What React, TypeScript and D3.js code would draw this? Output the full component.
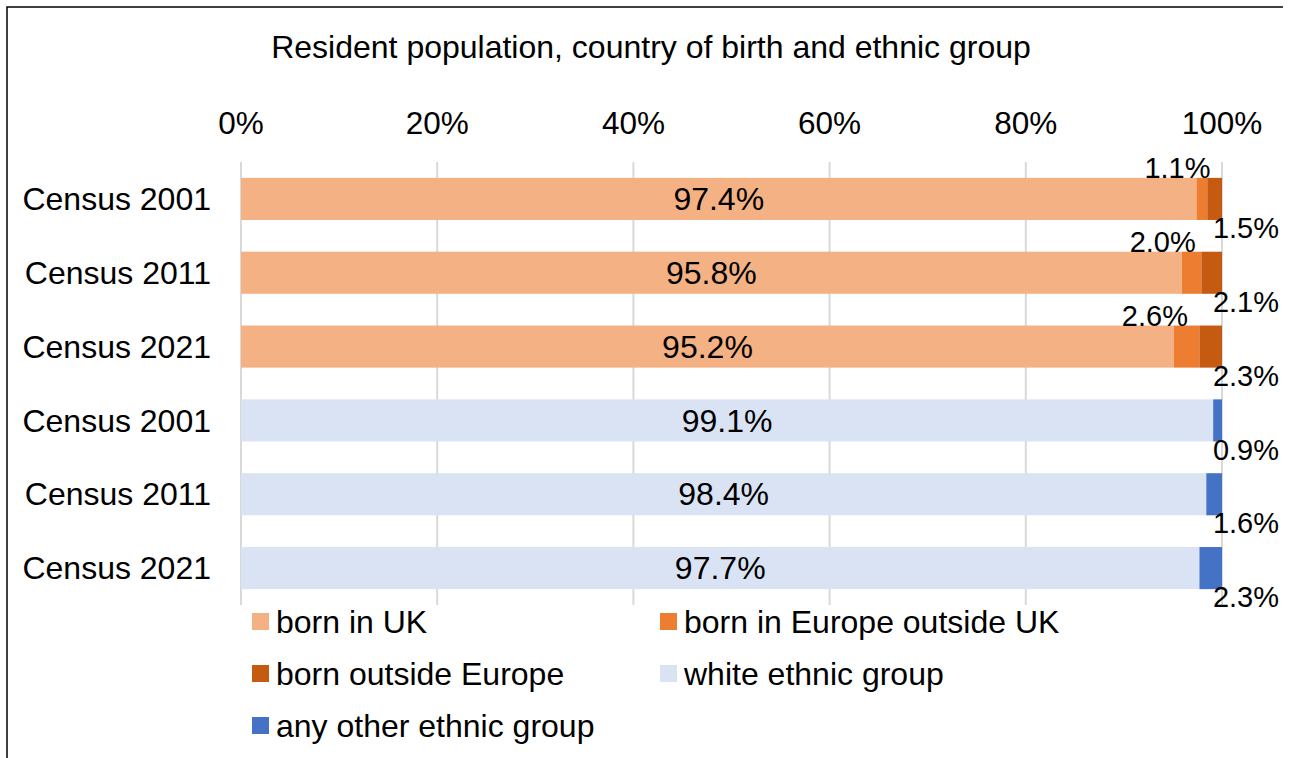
import React, { useRef, useEffect } from 'react';
import * as d3 from 'd3';

// rows, top to bottom
const categories = ['Census 2001', 'Census 2011', 'Census 2021', 'Census 2001', 'Census 2011', 'Census 2021'];

const seriesNames = [
  'born in UK',
  'born in Europe outside UK',
  'born outside Europe',
  'white ethnic group',
  'any other ethnic group',
];
const seriesColors = ['#F4B183', '#ED7D31', '#C55A11', '#DAE3F3', '#4472C4'];

const bornInUK = [97.4, 95.8, 95.2, 0, 0, 0];
const bornInEurope = [1.1, 2.0, 2.6, 0, 0, 0];
const bornOutsideEurope = [1.5, 2.1, 2.3, 0, 0, 0];
const whiteEthnic = [0, 0, 0, 99.1, 98.4, 97.7];
const otherEthnic = [0, 0, 0, 0.9, 1.6, 2.3];

const xTicks = [0, 0.2, 0.4, 0.6, 0.8, 1];

const FONT = "'Liberation Sans', Arial, sans-serif";

const ChartSvg: React.FC = () => {
  const svgRef = useRef<SVGSVGElement>(null);

  useEffect(() => {
    if (!svgRef.current) return;
    const svg = d3.select(svgRef.current);
    svg.selectAll('*').remove();

    const W = 1290;
    const H = 758;
    svg.attr('width', W).attr('height', H);

    const values = [bornInUK, bornInEurope, bornOutsideEurope, whiteEthnic, otherEthnic];
    const keys = seriesNames;
    const rows = categories.map((c, i) => {
      const r: Record<string, number> = { idx: i };
      keys.forEach((k, j) => (r[k] = values[j][i]));
      return r;
    });

    const stacked = d3.stack<Record<string, number>>()
      .keys(keys)
      .offset(d3.stackOffsetExpand)(rows);

    const x = d3.scaleLinear().domain([0, 1]).range([241, 1222]);
    const y = d3.scaleBand<number>()
      .domain(categories.map((_, i) => i))
      .range([162, 605])
      .paddingInner(0.43)
      .paddingOuter(0.215);

    // frame
    svg.append('path')
      .attr('d', `M7,${H} V7 H1283`)
      .attr('fill', 'none')
      .attr('stroke', '#000')
      .attr('stroke-width', 1.5);

    // title
    svg.append('text')
      .attr('x', 651).attr('y', 58)
      .attr('text-anchor', 'middle')
      .style('font-family', FONT).style('font-size', '32px').style('fill', '#000')
      .text('Resident population, country of birth and ethnic group');

    // grid
    svg.append('g')
      .selectAll('line')
      .data(xTicks)
      .join('line')
      .attr('x1', d => x(d)).attr('x2', d => x(d))
      .attr('y1', 162).attr('y2', 605)
      .attr('stroke', '#D9D9D9').attr('stroke-width', 2);

    // top axis labels
    svg.append('g')
      .selectAll('text')
      .data(xTicks)
      .join('text')
      .attr('x', d => x(d)).attr('y', 123)
      .attr('dy', '0.35em')
      .attr('text-anchor', 'middle')
      .style('font-family', FONT).style('font-size', '31.5px').style('fill', '#000')
      .text(d => d3.format('.0%')(d));

    // category labels
    svg.append('g')
      .selectAll('text')
      .data(categories)
      .join('text')
      .attr('x', 211)
      .attr('y', (_, i) => (y(i) as number) + y.bandwidth() / 2)
      .attr('dy', '0.35em')
      .attr('text-anchor', 'end')
      .style('font-family', FONT).style('font-size', '32px').style('fill', '#000')
      .text(d => d);

    // bars
    const layers = svg.append('g')
      .selectAll('g')
      .data(stacked)
      .join('g')
      .attr('fill', (_, i) => seriesColors[i]);

    layers.selectAll('rect')
      .data(d => d.filter(p => p[1] - p[0] > 0))
      .join('rect')
      .attr('x', p => x(p[0]))
      .attr('width', p => x(p[1]) - x(p[0]))
      .attr('y', p => y(p.data.idx) as number)
      .attr('height', y.bandwidth());

    // data labels
    const labels = svg.append('g')
      .style('font-family', FONT).style('fill', '#000');

    stacked.forEach((layer, si) => {
      layer.forEach(p => {
        const v = values[si][p.data.idx];
        if (!v) return;
        const top = y(p.data.idx) as number;
        const txt = labels.append('text').text(d3.format('.1f')(v) + '%');
        if (si === 0 || si === 3) {
          txt.attr('x', (x(p[0]) + x(p[1])) / 2)
            .attr('y', top + y.bandwidth() / 2)
            .attr('dy', '0.35em')
            .attr('text-anchor', 'middle')
            .style('font-size', '32px');
        } else if (si === 1) {
          txt.attr('x', x(p[0]) + 14)
            .attr('y', top - 10)
            .attr('dy', '0.35em')
            .attr('text-anchor', 'end')
            .style('font-size', '29px');
        } else {
          txt.attr('x', x(1) + 24)
            .attr('y', top + y.bandwidth() + 8)
            .attr('dy', '0.35em')
            .attr('text-anchor', 'middle')
            .style('font-size', '29px');
        }
      });
    });

    // legend
    const legend = svg.append('g');
    seriesNames.forEach((name, i) => {
      const col = i % 2;
      const row = Math.floor(i / 2);
      const lx = col === 0 ? 252 : 660;
      const ly = 633 + row * 52;
      legend.append('rect')
        .attr('x', lx).attr('y', ly - 20)
        .attr('width', 17).attr('height', 17)
        .attr('fill', seriesColors[i]);
      legend.append('text')
        .attr('x', lx + 24).attr('y', ly)
        .style('font-family', FONT).style('font-size', '32px').style('fill', '#000')
        .text(name);
    });
  }, []);

  return <svg ref={svgRef} style={{ display: 'block' }}></svg>;
};

export default function App() {
  return (
    <div style={{ position: 'absolute', left: 0, top: 0, background: '#fff' }}>
      <ChartSvg />
    </div>
  );
}
